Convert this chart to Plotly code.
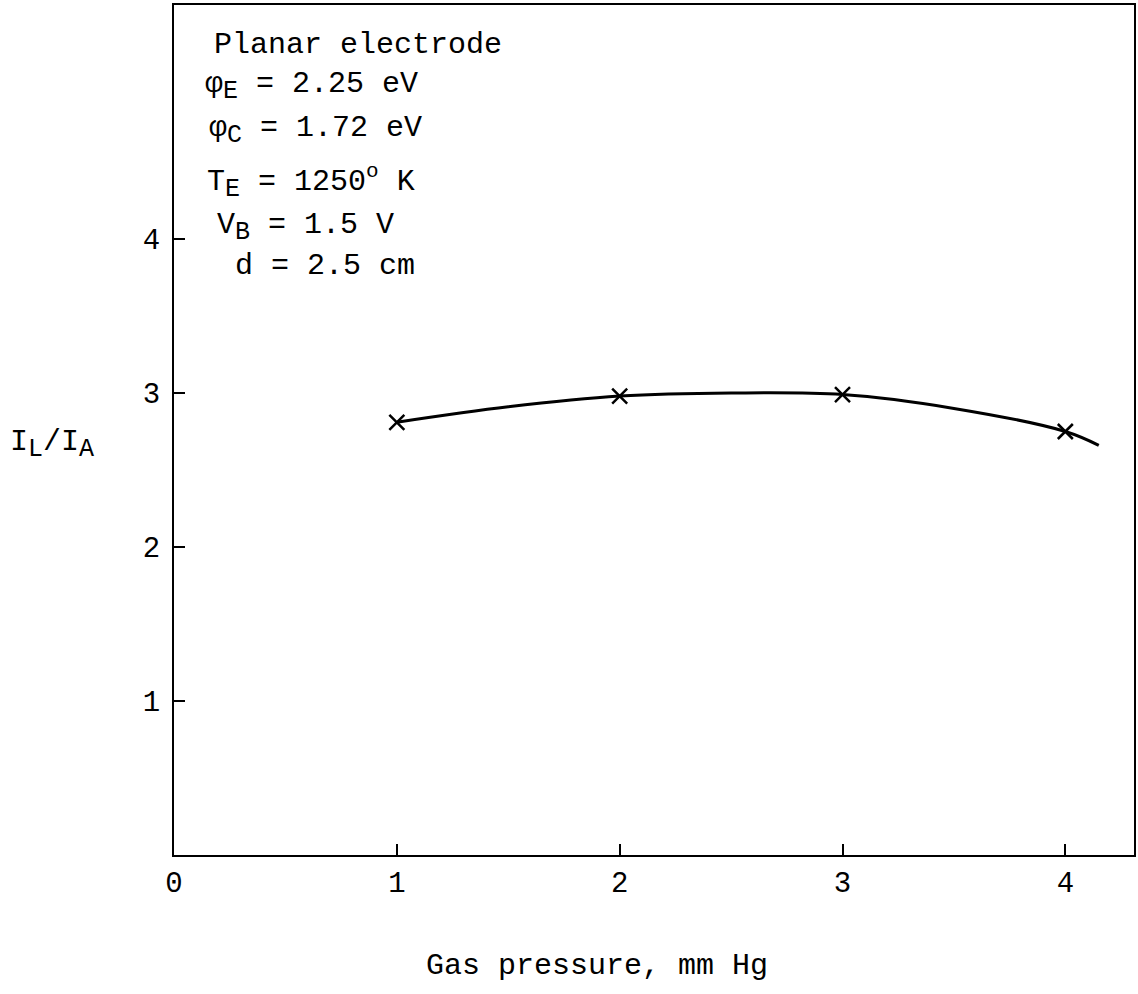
import plotly.graph_objects as go

# data
pressure = [1, 2, 3, 4]
ratio = [2.81, 2.98, 2.99, 2.75]
curve_x = [1.0, 1.5, 2.0, 2.5, 3.0, 3.5, 4.0, 4.15]
curve_y = [2.81, 2.91, 2.98, 3.00, 2.99, 2.90, 2.75, 2.66]
x_ticks = [0, 1, 2, 3, 4]
y_ticks = [1, 2, 3, 4]

SUB = '<sub><span style="font-size:25px">{}</span></sub>'
info_lines = [
    "Planar electrode",
    "φ" + SUB.format("E") + " = 2.25 eV",
    "φ" + SUB.format("C") + " = 1.72 eV",
    "T" + SUB.format("E") + " = 1250<sup>o</sup> K",
    "V" + SUB.format("B") + " = 1.5 V",
    "d = 2.5 cm",
]

W, H = 1138, 994
L, R, T, B = 174, 2, 5, 139
pw, ph = W - L - R, H - T - B
FONT = "Liberation Mono"

def px(x):
    return (x - L) / pw

def py(y):
    return (H - B - y) / ph

fig = go.Figure()
fig.add_trace(go.Scatter(x=curve_x, y=curve_y, mode="lines", line=dict(color="black", width=3, shape="spline"),
                         hoverinfo="skip", showlegend=False))
fig.add_trace(go.Scatter(x=pressure, y=ratio, mode="markers",
                         marker=dict(symbol="x-thin", size=15, line=dict(color="black", width=2.5), color="black"),
                         showlegend=False))

info_pos = [(212, 45), (203, 86), (207, 130), (205, 182), (215, 227), (233, 266)]
for txt, (xp, yp) in zip(info_lines, info_pos):
    fig.add_annotation(text=txt, xref="paper", yref="paper", x=px(xp), y=py(yp), xanchor="left", yanchor="middle",
                       showarrow=False, font=dict(family=FONT, size=30, color="black"))

fig.add_annotation(text="I" + SUB.format("L") + "/I" + SUB.format("A"), xref="paper", yref="paper",
                   x=px(8), y=py(445), xanchor="left", yanchor="middle", showarrow=False,
                   font=dict(family=FONT, size=30, color="black"))
fig.add_annotation(text="Gas pressure, mm Hg", xref="paper", yref="paper", x=px(598), y=py(966),
                   xanchor="center", yanchor="middle", showarrow=False, font=dict(family=FONT, size=30, color="black"))

fig.update_layout(
    width=W, height=H, margin=dict(l=L, r=R, t=T, b=B),
    paper_bgcolor="white", plot_bgcolor="white",
    font=dict(family=FONT, size=29, color="black"),
    xaxis=dict(range=[0, (W - R - L) / 223.3], tickvals=x_ticks, ticks="inside", ticklen=11, tickwidth=2,
               tickcolor="black", showline=True, linecolor="black", linewidth=2, mirror=True,
               showgrid=False, zeroline=False, tickfont=dict(family=FONT, size=29)),
    yaxis=dict(range=[0, ph / 154.0], tickvals=y_ticks, ticks="inside", ticklen=11, tickwidth=2,
               tickcolor="black", showline=True, linecolor="black", linewidth=2, mirror=True,
               showgrid=False, zeroline=False, tickfont=dict(family=FONT, size=29), ticklabelstandoff=6),
)
fig.write_html("out.html")
